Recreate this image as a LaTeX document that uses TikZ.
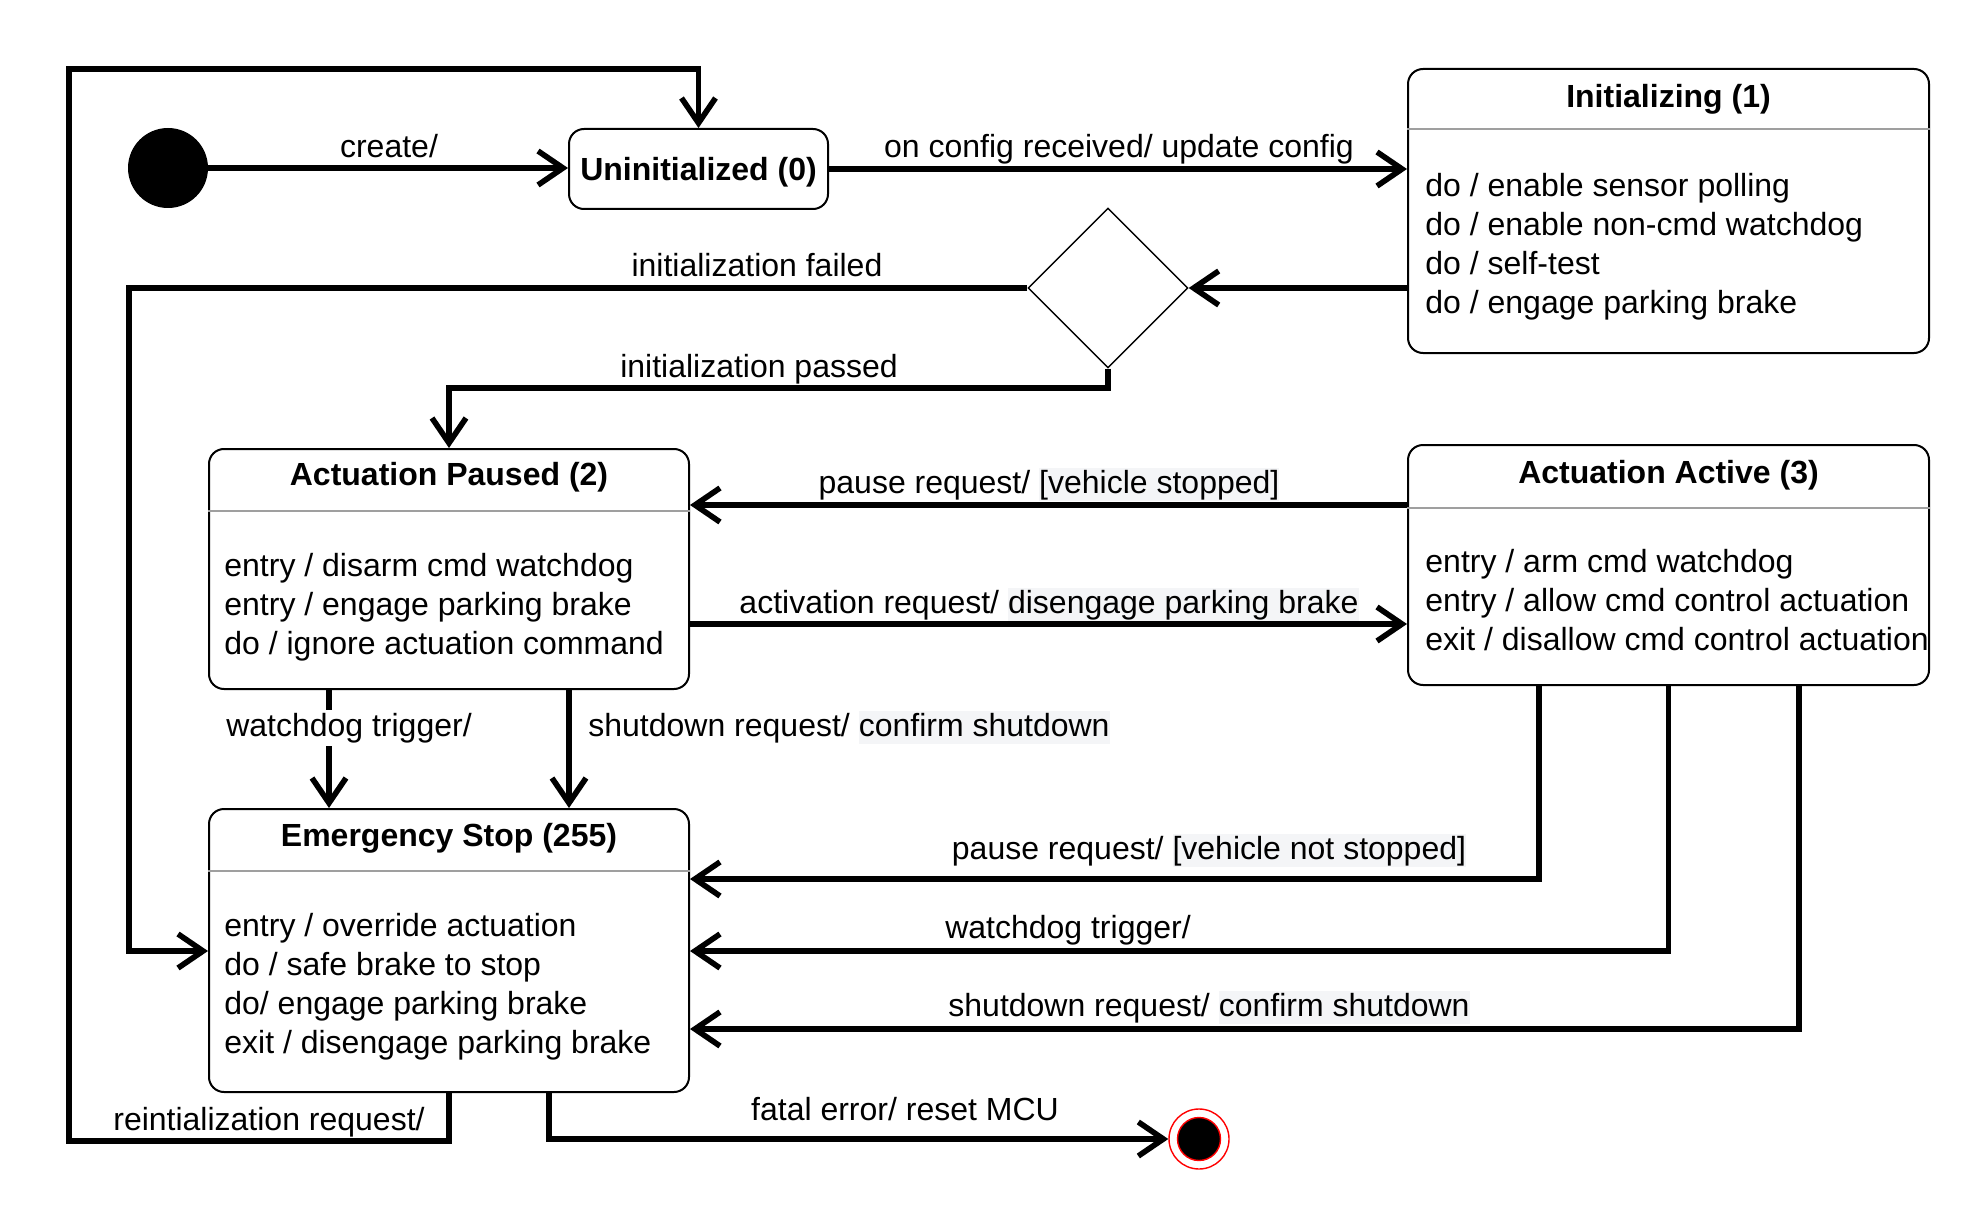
\documentclass[tikz,border=0pt]{standalone}
\usepackage{fontspec}
\setmainfont{Liberation Sans}
\usetikzlibrary{arrows.meta,shapes.geometric}
\definecolor{hlgray}{HTML}{F4F5F7}
\newcommand\myhl[1]{{\setlength{\fboxsep}{0pt}\colorbox{hlgray}{\vrule height 13pt depth 3.5pt width 0pt#1}}}
\begin{document}
\begin{tikzpicture}[x=0.5pt,y=-0.5pt,
  font=\fontsize{16}{19.5}\selectfont,
  statebox/.style={draw, line width=1pt, rounded corners=7.5pt, inner sep=0pt, fill=white},
  tr/.style={line width=2.8pt, -{Straight Barb[length=12.5pt,width=17pt]}},
  lbl/.style={anchor=base, inner sep=0pt},
  body/.style={anchor=base west, inner sep=0pt},
  head/.style={anchor=base, inner sep=0pt, font=\fontsize{16}{19.5}\selectfont\bfseries},
  divider/.style={gray!75, line width=1.2pt}]
\useasboundingbox (0,0) rectangle (1970,1214);

% states
\node[statebox, minimum width=129.5pt, minimum height=40pt] (u) at (698.5,169) {};
\node[head] (uT) at (698.5,181) {Uninitialized (0)};

\node[statebox, minimum width=260.5pt, minimum height=142pt] (ini) at (1668.5,211) {};
\node[head] (iniT) at (1668.5,107.5) {Initializing (1)};
\draw[divider] (ini.west |- 0,129) -- (ini.east |- 0,129);
\foreach \t [count=\i] in {do / enable sensor polling, do / enable non-cmd watchdog, do / self-test, do / engage parking brake}
  \node[body] (iniB\i) at (1425,{196.5+39*(\i-1)}) {\t};

\node[statebox, minimum width=240pt, minimum height=120pt] (ap) at (449,569) {};
\node[head] (apT) at (449,485.5) {Actuation Paused (2)};
\draw[divider] (ap.west |- 0,511) -- (ap.east |- 0,511);
\foreach \t [count=\i] in {entry / disarm cmd watchdog, entry / engage parking brake, do / ignore actuation command}
  \node[body] (apB\i) at (224,{576.5+39*(\i-1)}) {\t};

\node[statebox, minimum width=260.5pt, minimum height=120pt] (aa) at (1668.5,565) {};
\node[head] (aaT) at (1668.5,483) {Actuation Active (3)};
\draw[divider] (aa.west |- 0,508) -- (aa.east |- 0,508);
\foreach \t [count=\i] in {entry / arm cmd watchdog, entry / allow cmd control actuation, exit / disallow cmd control actuation}
  \node[body] (aaB\i) at (1425,{572.5+39*(\i-1)}) {\t};

\node[statebox, minimum width=240pt, minimum height=141.5pt] (es) at (449,950.5) {};
\node[head] (esT) at (449,846.5) {Emergency Stop (255)};
\draw[divider] (es.west |- 0,871) -- (es.east |- 0,871);
\foreach \t [count=\i] in {entry / override actuation, do / safe brake to stop, do/ engage parking brake, exit / disengage parking brake}
  \node[body] (esB\i) at (224,{936.5+39*(\i-1)}) {\t};

% pseudo states
\node[circle, fill=black, minimum size=40pt, inner sep=0pt] (init) at (168,168) {};
\node[circle, draw=red, line width=0.7pt, minimum size=30pt, inner sep=0pt] (fin) at (1199,1139) {};
\node[circle, fill=black, draw=red, line width=0.7pt, minimum size=21.5pt, inner sep=0pt] (finC) at (fin.center) {};
\node[diamond, draw, line width=0.7pt, minimum width=80pt, minimum height=80pt, inner sep=0pt, aspect=1] (dia) at (1108,288) {};

% bend coordinates
\coordinate (kFail) at (129,951);
\coordinate (kPass) at (1108,388);
\coordinate (yPause) at (0,505);
\coordinate (yAct) at (0,624);
\coordinate (xWd) at (329,0);
\coordinate (xSd) at (569,0);
\coordinate (kNs) at (1539,879);
\coordinate (kWd) at (1668.5,951);
\coordinate (kSd) at (1799,1029);
\coordinate (kFat) at (549,1139);
\coordinate (kR1) at (449,1141);
\coordinate (kR2) at (69,1141);
\coordinate (kR3) at (69,69);
\coordinate (kR4) at (698.5,69);

% transitions
\draw[tr] (init.east) -- (u.west |- init.east);
\draw[tr] (u.east) -- (u.east -| ini.west);
\draw[tr] (ini.west |- dia.east) -- (dia.east);
\draw[tr] (dia.west) -| (kFail) -- (kFail -| es.west);
\draw[tr] (dia.south) -- (kPass) -| (ap.north);
\draw[tr] (aa.west |- yPause) -- (ap.east |- yPause);
\draw[tr] (ap.east |- yAct) -- (aa.west |- yAct);
\draw[tr] (ap.south -| xWd) -- (es.north -| xWd);
\draw[tr] (ap.south -| xSd) -- (es.north -| xSd);
\draw[tr] (aa.south -| kNs) -- (kNs) -- (kNs -| es.east);
\draw[tr] (aa.south) -- (kWd) -- (kWd -| es.east);
\draw[tr] (aa.south -| kSd) -- (kSd) -- (kSd -| es.east);
\draw[tr] (es.south -| kFat) -- (kFat) -- (fin.west);
\draw[tr] (es.south) -- (kR1) -- (kR2) -- (kR3) -- (kR4) -- (u.north);

% labels
\node[lbl] (lCreate) at (389,157.5) {create/};
\node[lbl] (lConfig) at (1119,157.5) {on config received/ update config};
\node[lbl] (lFail) at (757,276.5) {initialization failed};
\node[lbl] (lPass) at (759,377.5) {initialization passed};
\node[lbl] (lPause) at (1049,493.5) {pause request/ \myhl{[vehicle stopped]}};
\node[lbl] (lAct) at (1049,613.5) {activation request/ \myhl{disengage parking brake}};
\node[lbl, fill=white, inner sep=1.5pt] (lWd1) at (349,736.5) {watchdog trigger/};
\node[anchor=base west, inner sep=0pt] (lSd1) at (588,736.5) {shutdown request/ \myhl{confirm shutdown}};
\node[lbl] (lNs) at (1209,859.5) {pause request/ \myhl{[vehicle not stopped]}};
\node[lbl] (lWd2) at (1068,938.5) {watchdog trigger/};
\node[lbl] (lSd2) at (1209,1016.5) {shutdown request/ \myhl{confirm shutdown}};
\node[lbl] (lFat) at (905,1120.5) {fatal error/ reset MCU};
\node[lbl] (lReinit) at (269,1130.5) {reintialization request/};
\end{tikzpicture}
\end{document}
